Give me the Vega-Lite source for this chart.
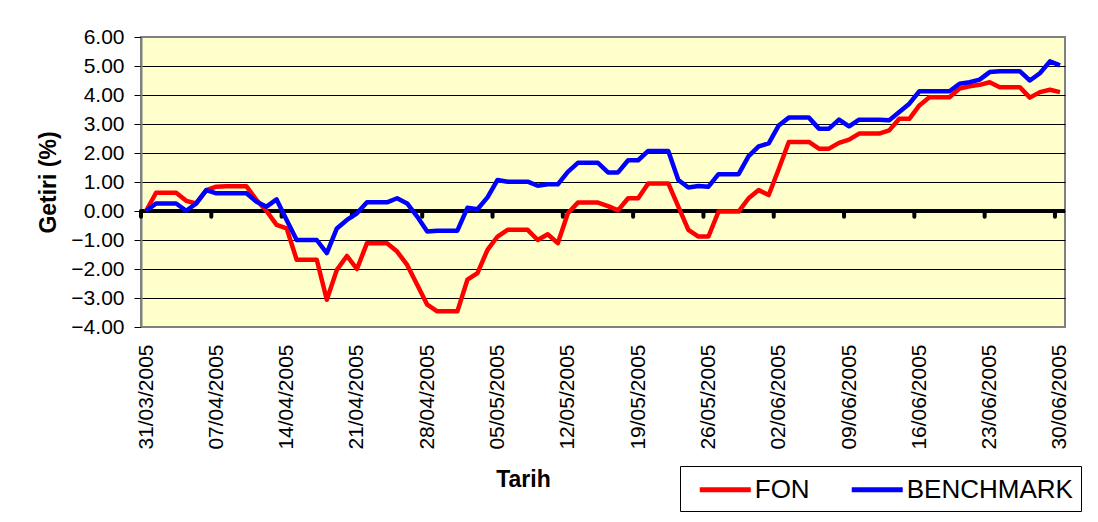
{
  "$schema": "https://vega.github.io/schema/vega-lite/v6.json",
  "width": 924,
  "height": 290,
  "autosize": {"type": "none"},
  "padding": {"left": 141, "top": 37, "right": 33, "bottom": 195},
  "background": "white",
  "config": {
    "font": "Liberation Sans",
    "view": {"fill": "#FFFFCC", "stroke": "#808080", "strokeWidth": 2}
  },
  "data": {
    "format": {"parse": {"date": "date"}},
    "values": [
      {"date": "2005-03-31", "FON": 0.00, "BENCHMARK": 0.00},
      {"date": "2005-04-01", "FON": 0.63, "BENCHMARK": 0.26},
      {"date": "2005-04-02", "FON": 0.63, "BENCHMARK": 0.26},
      {"date": "2005-04-03", "FON": 0.63, "BENCHMARK": 0.26},
      {"date": "2005-04-04", "FON": 0.35, "BENCHMARK": 0.01},
      {"date": "2005-04-05", "FON": 0.26, "BENCHMARK": 0.26},
      {"date": "2005-04-06", "FON": 0.72, "BENCHMARK": 0.72},
      {"date": "2005-04-07", "FON": 0.84, "BENCHMARK": 0.61},
      {"date": "2005-04-08", "FON": 0.85, "BENCHMARK": 0.61},
      {"date": "2005-04-09", "FON": 0.85, "BENCHMARK": 0.61},
      {"date": "2005-04-10", "FON": 0.85, "BENCHMARK": 0.61},
      {"date": "2005-04-11", "FON": 0.38, "BENCHMARK": 0.32},
      {"date": "2005-04-12", "FON": 0.00, "BENCHMARK": 0.15},
      {"date": "2005-04-13", "FON": -0.48, "BENCHMARK": 0.40},
      {"date": "2005-04-14", "FON": -0.60, "BENCHMARK": -0.31},
      {"date": "2005-04-15", "FON": -1.68, "BENCHMARK": -1.00},
      {"date": "2005-04-16", "FON": -1.68, "BENCHMARK": -1.00},
      {"date": "2005-04-17", "FON": -1.68, "BENCHMARK": -1.00},
      {"date": "2005-04-18", "FON": -3.06, "BENCHMARK": -1.45},
      {"date": "2005-04-19", "FON": -2.03, "BENCHMARK": -0.60},
      {"date": "2005-04-20", "FON": -1.55, "BENCHMARK": -0.31},
      {"date": "2005-04-21", "FON": -2.00, "BENCHMARK": -0.08},
      {"date": "2005-04-22", "FON": -1.11, "BENCHMARK": 0.30},
      {"date": "2005-04-23", "FON": -1.11, "BENCHMARK": 0.30},
      {"date": "2005-04-24", "FON": -1.11, "BENCHMARK": 0.30},
      {"date": "2005-04-25", "FON": -1.40, "BENCHMARK": 0.44},
      {"date": "2005-04-26", "FON": -1.86, "BENCHMARK": 0.26},
      {"date": "2005-04-27", "FON": -2.54, "BENCHMARK": -0.19},
      {"date": "2005-04-28", "FON": -3.23, "BENCHMARK": -0.71},
      {"date": "2005-04-29", "FON": -3.46, "BENCHMARK": -0.68},
      {"date": "2005-04-30", "FON": -3.46, "BENCHMARK": -0.68},
      {"date": "2005-05-01", "FON": -3.46, "BENCHMARK": -0.68},
      {"date": "2005-05-02", "FON": -2.37, "BENCHMARK": 0.11},
      {"date": "2005-05-03", "FON": -2.14, "BENCHMARK": 0.06},
      {"date": "2005-05-04", "FON": -1.34, "BENCHMARK": 0.47},
      {"date": "2005-05-05", "FON": -0.88, "BENCHMARK": 1.07},
      {"date": "2005-05-06", "FON": -0.65, "BENCHMARK": 1.01},
      {"date": "2005-05-07", "FON": -0.65, "BENCHMARK": 1.01},
      {"date": "2005-05-08", "FON": -0.65, "BENCHMARK": 1.01},
      {"date": "2005-05-09", "FON": -1.00, "BENCHMARK": 0.87},
      {"date": "2005-05-10", "FON": -0.80, "BENCHMARK": 0.92},
      {"date": "2005-05-11", "FON": -1.11, "BENCHMARK": 0.92},
      {"date": "2005-05-12", "FON": -0.08, "BENCHMARK": 1.35},
      {"date": "2005-05-13", "FON": 0.29, "BENCHMARK": 1.66},
      {"date": "2005-05-14", "FON": 0.29, "BENCHMARK": 1.66},
      {"date": "2005-05-15", "FON": 0.29, "BENCHMARK": 1.66},
      {"date": "2005-05-16", "FON": 0.17, "BENCHMARK": 1.33},
      {"date": "2005-05-17", "FON": 0.02, "BENCHMARK": 1.33},
      {"date": "2005-05-18", "FON": 0.44, "BENCHMARK": 1.75},
      {"date": "2005-05-19", "FON": 0.44, "BENCHMARK": 1.75},
      {"date": "2005-05-20", "FON": 0.95, "BENCHMARK": 2.07},
      {"date": "2005-05-21", "FON": 0.95, "BENCHMARK": 2.07},
      {"date": "2005-05-22", "FON": 0.95, "BENCHMARK": 2.07},
      {"date": "2005-05-23", "FON": 0.15, "BENCHMARK": 1.07},
      {"date": "2005-05-24", "FON": -0.65, "BENCHMARK": 0.81},
      {"date": "2005-05-25", "FON": -0.88, "BENCHMARK": 0.86},
      {"date": "2005-05-26", "FON": -0.88, "BENCHMARK": 0.84},
      {"date": "2005-05-27", "FON": -0.02, "BENCHMARK": 1.27},
      {"date": "2005-05-28", "FON": -0.02, "BENCHMARK": 1.27},
      {"date": "2005-05-29", "FON": -0.02, "BENCHMARK": 1.27},
      {"date": "2005-05-30", "FON": 0.44, "BENCHMARK": 1.89},
      {"date": "2005-05-31", "FON": 0.72, "BENCHMARK": 2.23},
      {"date": "2005-06-01", "FON": 0.55, "BENCHMARK": 2.33},
      {"date": "2005-06-02", "FON": 1.45, "BENCHMARK": 2.95},
      {"date": "2005-06-03", "FON": 2.38, "BENCHMARK": 3.22},
      {"date": "2005-06-04", "FON": 2.38, "BENCHMARK": 3.22},
      {"date": "2005-06-05", "FON": 2.38, "BENCHMARK": 3.22},
      {"date": "2005-06-06", "FON": 2.15, "BENCHMARK": 2.84},
      {"date": "2005-06-07", "FON": 2.15, "BENCHMARK": 2.84},
      {"date": "2005-06-08", "FON": 2.35, "BENCHMARK": 3.15},
      {"date": "2005-06-09", "FON": 2.46, "BENCHMARK": 2.92},
      {"date": "2005-06-10", "FON": 2.67, "BENCHMARK": 3.15},
      {"date": "2005-06-11", "FON": 2.67, "BENCHMARK": 3.15},
      {"date": "2005-06-12", "FON": 2.67, "BENCHMARK": 3.15},
      {"date": "2005-06-13", "FON": 2.78, "BENCHMARK": 3.13},
      {"date": "2005-06-14", "FON": 3.18, "BENCHMARK": 3.41},
      {"date": "2005-06-15", "FON": 3.18, "BENCHMARK": 3.70},
      {"date": "2005-06-16", "FON": 3.64, "BENCHMARK": 4.13},
      {"date": "2005-06-17", "FON": 3.92, "BENCHMARK": 4.13},
      {"date": "2005-06-18", "FON": 3.92, "BENCHMARK": 4.13},
      {"date": "2005-06-19", "FON": 3.92, "BENCHMARK": 4.13},
      {"date": "2005-06-20", "FON": 4.22, "BENCHMARK": 4.39},
      {"date": "2005-06-21", "FON": 4.30, "BENCHMARK": 4.44},
      {"date": "2005-06-22", "FON": 4.35, "BENCHMARK": 4.53},
      {"date": "2005-06-23", "FON": 4.44, "BENCHMARK": 4.79},
      {"date": "2005-06-24", "FON": 4.27, "BENCHMARK": 4.82},
      {"date": "2005-06-25", "FON": 4.27, "BENCHMARK": 4.82},
      {"date": "2005-06-26", "FON": 4.27, "BENCHMARK": 4.82},
      {"date": "2005-06-27", "FON": 3.91, "BENCHMARK": 4.50},
      {"date": "2005-06-28", "FON": 4.10, "BENCHMARK": 4.75},
      {"date": "2005-06-29", "FON": 4.18, "BENCHMARK": 5.16},
      {"date": "2005-06-30", "FON": 4.10, "BENCHMARK": 5.02}
    ]
  },
  "resolve": {"axis": {"x": "independent", "y": "independent"}},
  "layer": [
    {
      "mark": {"type": "rule", "color": "black", "strokeWidth": 4},
      "encoding": {"y": {"datum": 0, "type": "quantitative", "axis": null}}
    },
    {
      "transform": [{"filter": "utcday(datum.date) == 4"}],
      "mark": {"type": "rule", "color": "black", "strokeWidth": 4, "strokeCap": "round"},
      "encoding": {
        "x": {"field": "date", "type": "temporal", "axis": null},
        "y": {"datum": 0, "type": "quantitative", "axis": null},
        "y2": {"datum": -0.2}
      }
    },
    {
      "transform": [{"fold": ["FON", "BENCHMARK"], "as": ["series", "value"]}],
      "mark": {"type": "line", "strokeWidth": 4.5, "strokeJoin": "round"},
      "encoding": {
        "x": {
          "field": "date",
          "type": "temporal",
          "timeUnit": "utcyearmonthdate",
          "bandPosition": 0.5,
          "scale": {
            "type": "utc",
            "domain": [
              {"year": 2005, "month": 3, "date": 31, "utc": true},
              {"year": 2005, "month": 7, "date": 1, "utc": true}
            ]
          },
          "axis": {
            "values": [
              {"year": 2005, "month": 3, "date": 31, "hours": 12, "utc": true},
              {"year": 2005, "month": 4, "date": 7, "hours": 12, "utc": true},
              {"year": 2005, "month": 4, "date": 14, "hours": 12, "utc": true},
              {"year": 2005, "month": 4, "date": 21, "hours": 12, "utc": true},
              {"year": 2005, "month": 4, "date": 28, "hours": 12, "utc": true},
              {"year": 2005, "month": 5, "date": 5, "hours": 12, "utc": true},
              {"year": 2005, "month": 5, "date": 12, "hours": 12, "utc": true},
              {"year": 2005, "month": 5, "date": 19, "hours": 12, "utc": true},
              {"year": 2005, "month": 5, "date": 26, "hours": 12, "utc": true},
              {"year": 2005, "month": 6, "date": 2, "hours": 12, "utc": true},
              {"year": 2005, "month": 6, "date": 9, "hours": 12, "utc": true},
              {"year": 2005, "month": 6, "date": 16, "hours": 12, "utc": true},
              {"year": 2005, "month": 6, "date": 23, "hours": 12, "utc": true},
              {"year": 2005, "month": 6, "date": 30, "hours": 12, "utc": true}
            ],
            "labelExpr": "utcFormat(datum.value, '%d/%m/%Y')",
            "labelAngle": -90,
            "labelPadding": 17,
            "labelFontSize": 21,
            "labelColor": "black",
            "labelFlush": false,
            "labelOverlap": false,
            "ticks": false,
            "tickSize": 0,
            "domain": false,
            "grid": false,
            "title": "Tarih",
            "titleFontSize": 23,
            "titleFontWeight": "bold",
            "titleColor": "black",
            "titleX": 382,
            "titleY": 152,
            "titleAlign": "center",
            "titleBaseline": "middle"
          }
        },
        "y": {
          "field": "value",
          "type": "quantitative",
          "scale": {"domain": [-4, 6], "nice": false, "zero": false},
          "axis": {
            "values": [-4, -3, -2, -1, 0, 1, 2, 3, 4, 5, 6],
            "format": ".2f",
            "labelFontSize": 21,
            "labelColor": "black",
            "labelPadding": 10,
            "labelOverlap": false,
            "tickSize": 7,
            "tickColor": "black",
            "domainColor": "#808080",
            "domainWidth": 2,
            "grid": true,
            "gridColor": {"condition": {"test": "datum.value == 6 || datum.value == -4", "value": "#808080"}, "value": "black"},
            "gridWidth": 1,
            "gridOpacity": 1,
            "title": "Getiri (%)",
            "titleFontSize": 23,
            "titleFontWeight": "bold",
            "titleColor": "black",
            "titleX": -93,
            "titleY": 145,
            "titleAlign": "center",
            "titleBaseline": "middle",
            "titleAngle": -90
          }
        },
        "color": {
          "field": "series",
          "type": "nominal",
          "scale": {"domain": ["FON", "BENCHMARK"], "range": ["#FF0000", "#0000FF"]},
          "legend": {
            "orient": "none",
            "legendX": 539,
            "legendY": 429,
            "direction": "horizontal",
            "title": null,
            "symbolType": "M-2,0H2",
            "symbolStrokeWidth": 5,
            "symbolSize": 650,
            "symbolOffset": 21.75,
            "labelFontSize": 26,
            "labelColor": "black",
            "labelOffset": 14,
            "labelLimit": 400,
            "columnPadding": 30,
            "padding": 8,
            "strokeColor": "black",
            "fillColor": "white"
          }
        }
      }
    }
  ]
}
